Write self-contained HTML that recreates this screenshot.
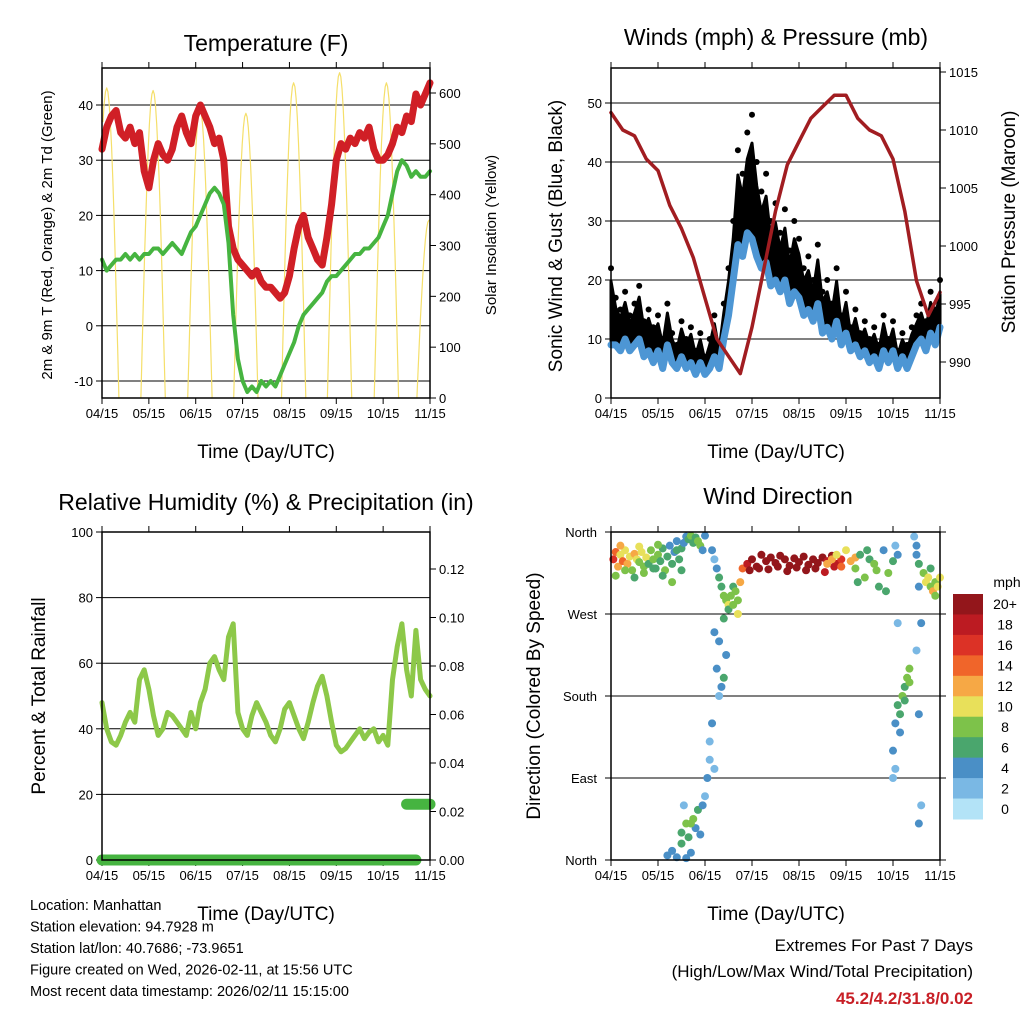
<!DOCTYPE html>
<html><head><meta charset="utf-8"><style>
body{margin:0;background:#fff}
svg{display:block;font-family:"Liberation Sans",sans-serif}
</style></head><body>
<svg id="c" width="1024" height="1024" xmlns="http://www.w3.org/2000/svg"></svg>
<script>
// ---------- Data ----------
const xTickLabels = ["04/15","05/15","06/15","07/15","08/15","09/15","10/15","11/15"];
// temperature, step 0.1 day
const tempRed = [32,36,38,39,35,34,36,33,35,28, 25,30,33,31,30,32,36,38,35,33, 38,40,38,36,33,34,30,18,14,12, 11,10,9,10,8,7,7,6,5,6, 9,14,18,20,16,14,12,11,16,22, 30,33,32,34,33,35,34,36,32,30, 30,31,33,36,35,38,37,42,40,42,44];
const tempGreen = [12,10,11,12,12,13,12,13,12,13, 13,14,14,13,14,15,14,13,15,17, 18,20,22,24,25,24,22,15,2,-6, -10,-12,-11,-12,-10,-11,-10,-11,-9,-7, -5,-3,0,2,3,4,5,6,8,9, 9,10,11,12,13,13,14,14,15,16, 18,20,24,28,30,29,27,28,27,27,28];
const solarPeakT = [0.1,1.09,2.09,3.07,4.09,5.07,6.07,6.98];
const solarPeakV = [610,605,570,560,620,640,620,350];
const tempTicks = [-10,0,10,20,30,40];
const solarTicks = [0,100,200,300,400,500,600];
// winds, step 0.1 day
const gust = [22,17,15,18,14,16,19,13,15, 12,14,10,16,11,9,13,10,12,8,11, 7,10,14,9,16,22, 30,42,38,45,48,40,35,38,30,33, 28,32,25,30,27,22,24,20,26,18, 20,16,22,14,18,12,15,11,13,10, 12,9,14,10,13,8,11,9,12,14, 16,13,18,15,20];
const sonic = [9,9,8,10,8,9,10,7,8, 6,8,5,9,6,5,7,5,6,4,6, 4,5,7,5,10,14, 20,26,24,28,27,24,22,23,19,20, 18,20,16,18,17,14,15,13,16,11, 12,10,13,9,11,8,9,7,8,6, 7,5,8,6,8,5,7,5,7,9, 10,8,11,9,12];
// pressure, step 0.25 day
const pressure = [1011.5,1010,1009.5,1007.5,1006.5,1003.5,1001.5,999,995.5,992,990.5,989,993,998,1003,1007,1009,1011,1012,1013,1013,1011,1010,1009.5,1007.5,1003,997,994,996];
const windTicks = [0,10,20,30,40,50];
const presTicks = [990,995,1000,1005,1010,1015];
// RH step 0.1 day
const rh = [48,40,36,35,38,42,45,42,55,58, 52,44,38,40,45,44,42,40,38,45, 40,48,52,60,62,58,55,68,72,45, 40,38,44,48,45,42,38,36,40,46, 48,44,40,37,42,48,53,56,50,42, 35,33,34,36,38,40,37,39,40,36, 38,35,55,65,72,58,50,70,55,52,50];
const precipStart = [0,6.5];
const precipEnd = [6.7,7];
const precipVal = [0,0.023];
const rhTicks = [0,20,40,60,80,100];
const precipTicks = ["0.00","0.02","0.04","0.06","0.08","0.10","0.12"];
// wind direction
const dirT = [.05,.1,.15,.2,.25,.3,.35,.4,.45,.5,.55,.6,.65,.7,.75,.8,.85,.9,.95,1.0,1.05,1.1,1.15,1.2,1.25,1.3,1.35,1.4,1.45,1.5,1.55,1.6,.1,.3,.5,.7,.9,1.1,1.3,1.5,.2,.6,1.0,1.4,
 1.65,1.7,1.75,1.8,1.85,1.9,1.95,2.0,
 1.2,1.3,1.4,1.5,1.6,1.7,1.5,1.6,1.65,1.75,1.8,1.85,1.9,1.95,2.0,2.05,2.1,2.1,2.15,2.2,1.7,1.55,
 2.15,2.2,2.25,2.3,2.35,2.4,2.45,2.5,2.55,2.6,2.65,2.7,2.75,2.8,2.2,2.3,2.4,2.5,2.6,2.7,2.25,2.35,2.45,2.3,2.4,
 2.9,3.0,3.1,3.2,3.3,3.4,3.5,3.6,3.7,3.8,3.9,4.0,4.1,4.2,4.3,4.4,4.5,4.6,4.7,4.8,4.9,2.95,3.15,3.35,3.55,3.75,3.95,4.15,4.35,4.55,4.75,
 4.6,4.7,4.8,4.9,5.0,5.1,5.2,
 5.2,5.3,5.4,5.5,5.6,5.7,5.8,5.9,6.0,6.1,5.25,5.45,5.65,5.85,6.05,
 6.0,6.05,6.1,6.15,6.2,6.25,6.3,6.35,6.05,6.15,6.25,6.35,6.0,6.1,
 6.45,6.5,6.5,6.55,6.55,6.6,6.5,6.55,6.6,6.55,
 6.65,6.7,6.75,6.8,6.85,6.9,6.95,7.0,6.8,6.9];
const dirDeg = [330,338,322,335,328,340,325,333,318,336,330,327,338,322,332,325,340,330,320,335,328,342,318,333,345,325,338,350,330,342,348,355,312,318,310,315,320,312,305,318,345,344,346,340,
 352,356,348,354,350,345,340,356,
 5,10,3,18,2,8,30,40,25,45,35,55,28,60,70,90,110,130,150,100,40,60,
 340,330,320,310,300,290,285,280,290,300,295,270,305,320,250,240,265,275,280,285,210,190,225,180,200,
 325,330,322,335,328,332,326,334,330,323,331,327,333,324,330,326,332,328,334,325,330,318,320,319,322,317,321,318,320,316,322,
 325,330,335,322,340,328,332,
 320,335,310,330,325,300,340,315,328,335,305,340,318,295,345,
 120,150,170,160,180,190,200,210,100,140,175,195,90,260,
 355,345,335,325,300,260,230,160,60,40,
 315,305,310,300,295,305,300,310,320,290];
const dirSpd = [16,13,11,10,14,9,11,10,8,12,9,7,10,8,9,6,8,7,6,8,6,5,7,6,4,5,4,3,6,5,4,3,7,8,6,7,6,5,7,6,12,9,8,5,
 6,7,5,6,8,7,4,3,
 4,3,4,5,3,4,5,7,6,8,4,5,3,4,2,3,2,2,3,2,7,1,
 3,2,4,5,6,7,8,10,7,6,8,9,12,14,4,3,5,6,7,8,3,4,3,2,5,
 18,20,22,21,19,23,20,22,21,19,22,20,23,21,19,20,22,18,20,17,16,21,22,20,23,21,20,22,19,18,17,
 12,11,10,13,10,11,12,
 7,6,8,5,7,6,4,8,5,3,6,5,7,6,2,
 3,4,5,6,7,6,8,7,2,4,6,8,2,2,
 2,3,4,5,3,4,2,3,2,3,
 8,9,10,8,11,7,10,9,6,8];
const dirTicks = ["North","East","South","West","North"];
const cbLabels = ["0","2","4","6","8","10","12","14","16","18","20+"];
const cbColors = ["#b3e3f7","#7ab8e4","#4a8fc6","#4aa66d","#7dc24a","#e8e05a","#f6a845","#f0652a","#dc3226","#bc1b22","#93161b"];

// ---------- helpers ----------
const svg=document.getElementById('c');
const NS='http://www.w3.org/2000/svg';
function mk(tag,attrs,parent){const e=document.createElementNS(NS,tag);for(const k in attrs)e.setAttribute(k,attrs[k]);(parent||svg).appendChild(e);return e;}
function txt(s,x,y,size,anchor,name,extra){const e=mk('text',Object.assign({x:x,y:y,'font-size':size,'text-anchor':anchor||'middle',fill:'#000'},extra||{}));e.textContent=s;


return e;}
function lin(d0,d1,r0,r1){return v=>r0+(v-d0)*(r1-r0)/(d1-d0);}
function poly(pts,color,w,name,g){const e=mk('polyline',{points:pts.map(p=>p[0].toFixed(1)+','+p[1].toFixed(1)).join(' '),fill:'none',stroke:color,'stroke-width':w,'stroke-linejoin':'round','stroke-linecap':'round'},g);


return e;}

function panel(name){
  const g=mk('g',{});
  
  
  return g;
}
function frame(g,L,T,R,B){
  const r=mk('rect',{x:L,y:T,width:R-L,height:B-T,fill:'none',stroke:'#000','stroke-width':1.5},g);
  
  
}
function xAxis(g,L,R,T,B,cx){
  const xs=lin(0,7,L,R);
  xTickLabels.forEach((s,i)=>{
    const x=xs(i);
    mk('line',{x1:x,y1:B,x2:x,y2:B+6,stroke:'#000','stroke-width':1},g);
    mk('line',{x1:x,y1:T,x2:x,y2:T-6,stroke:'#000','stroke-width':1},g);
    txt(s,x,B+20,13,'middle','x-tick-label');
  });
  txt('Time (Day/UTC)',cx,B+60,19,'middle','x-axis-title');
  return xs;
}

// ---------- Panel 1: Temperature ----------
(function(){
  const L=102,T=68,R=430,B=398;
  const g=panel('temperature-panel');
  const xs=lin(0,7,L,R), ys=lin(-10,40,381,105), ysol=lin(0,600,398,93);
  tempTicks.forEach(v=>{const y=ys(v);mk('line',{x1:L,y1:y,x2:R,y2:y,stroke:'#000','stroke-width':1},g);mk('line',{x1:L,y1:y,x2:L-6,y2:y,stroke:'#000'},g);txt(String(v),L-9,y+5,13,'end','temp-tick-label');});
  solarTicks.forEach(v=>{const y=ysol(v);mk('line',{x1:R,y1:y,x2:R+6,y2:y,stroke:'#000'},g);txt(String(v),R+9,y+5,13,'start','solar-tick-label');});
  xAxis(g,L,R,T,B,266);
  solarPeakT.forEach((t,i)=>{
    const pts=[];const half=0.26;
    for(let k=0;k<=20;k++){const tt=t-half+k*2*half/20;if(tt<0||tt>7)continue;const v=solarPeakV[i]*Math.sin(Math.PI*k/20);pts.push([xs(tt),ysol(v)]);}
    poly(pts,'#f5df6a',1.2,'solar-insolation-line',g);
  });
  poly(tempRed.map((v,i)=>[xs(i*0.1),ys(v)]),'#d01f26',7,'temperature-red-line',g);
  poly(tempGreen.map((v,i)=>[xs(i*0.1),ys(v)]),'#46b440',4,'dewpoint-green-line',g);
  frame(g,L,T,R,B);
  txt('Temperature (F)',266,51,23,'middle','temperature-title');
  txt('2m & 9m T (Red, Orange) & 2m Td (Green)',0,0,15,'middle','temp-y-axis-title',{transform:'translate(52,235) rotate(-90)'});
  txt('Solar Insolation (Yellow)',0,0,15,'middle','solar-y-axis-title',{transform:'translate(496,235) rotate(-90)'});
})();

// ---------- Panel 2: Winds ----------
(function(){
  const L=611,T=68,R=940,B=398;
  const g=panel('winds-panel');
  const xs=lin(0,7,L,R), ys=lin(0,50,398,103), yp=lin(990,1015,362,72);
  windTicks.forEach(v=>{const y=ys(v);if(v>0)mk('line',{x1:L,y1:y,x2:R,y2:y,stroke:'#000','stroke-width':1},g);mk('line',{x1:L,y1:y,x2:L-6,y2:y,stroke:'#000'},g);txt(String(v),L-9,y+5,13,'end','wind-tick-label');});
  presTicks.forEach(v=>{const y=yp(v);mk('line',{x1:R,y1:y,x2:R+6,y2:y,stroke:'#000'},g);txt(String(v),R+9,y+5,13,'start','pressure-tick-label');});
  xAxis(g,L,R,T,B,776);
  // black gust cloud band between sonic and gust
  const up=gust.map((v,i)=>[xs(i*0.1),ys(v*0.9)]);
  const lo=sonic.map((v,i)=>[xs(i*0.1),ys(v)]).reverse();
  const band=mk('polygon',{points:up.concat(lo).map(p=>p[0].toFixed(1)+','+p[1].toFixed(1)).join(' '),fill:'#000',stroke:'#000','stroke-width':3,'stroke-linejoin':'round'},g);
  
  
  gust.forEach((v,i)=>{
    const c=mk('circle',{cx:xs(i*0.1),cy:ys(v),r:3,fill:'#000'},g);
    
    
  });
  poly(sonic.map((v,i)=>[xs(i*0.1),ys(v)]),'#4d96d4',7,'sonic-wind-line',g);
  poly(pressure.map((v,i)=>[xs(i*0.25),yp(v)]),'#a11d21',3.5,'pressure-line',g);
  frame(g,L,T,R,B);
  txt('Winds (mph) & Pressure (mb)',776,45,23,'middle','winds-title');
  txt('Sonic Wind & Gust (Blue, Black)',0,0,19,'middle','wind-y-axis-title',{transform:'translate(562,236) rotate(-90)'});
  txt('Station Pressure (Maroon)',0,0,19,'middle','pressure-y-axis-title',{transform:'translate(1015,222) rotate(-90)'});
})();

// ---------- Panel 3: RH ----------
(function(){
  const L=102,T=532,R=430,B=860;
  const g=panel('humidity-panel');
  const xs=lin(0,7,L,R), ys=lin(0,100,860,532), yp=lin(0,0.12,860,569);
  rhTicks.forEach(v=>{const y=ys(v);mk('line',{x1:L,y1:y,x2:R,y2:y,stroke:'#000','stroke-width':1},g);mk('line',{x1:L,y1:y,x2:L-6,y2:y,stroke:'#000'},g);txt(String(v),L-9,y+5,13,'end','rh-tick-label');});
  precipTicks.forEach(s=>{const y=yp(parseFloat(s));mk('line',{x1:R,y1:y,x2:R+6,y2:y,stroke:'#000'},g);txt(s,R+9,y+5,13,'start','precip-tick-label');});
  xAxis(g,L,R,T,B,266);
  poly(rh.map((v,i)=>[xs(i*0.1),ys(v)]),'#8dc849',5,'rh-line',g);
  precipStart.forEach((s,i)=>{poly([[xs(s),yp(precipVal[i])],[xs(precipEnd[i]),yp(precipVal[i])]],'#46b440',11,'precip-line',g);});
  frame(g,L,T,R,B);
  txt('Relative Humidity (%) & Precipitation (in)',266,510,23,'middle','humidity-title');
  txt('Percent & Total Rainfall',0,0,19,'middle','rh-y-axis-title',{transform:'translate(45,696) rotate(-90)'});
})();

// ---------- Panel 4: Wind direction ----------
(function(){
  const L=611,T=532,R=940,B=860;
  const g=panel('wind-direction-panel');
  const xs=lin(0,7,L,R), ys=lin(0,360,860,532);
  dirTicks.forEach((s,i)=>{const y=ys(i*90);mk('line',{x1:L-6,y1:y,x2:R+6,y2:y,stroke:'#000','stroke-width':1},g);txt(s,L-14,y+5,13,'end','direction-tick-label');});
  xAxis(g,L,R,T,B,776);
  dirT.forEach((t,i)=>{
    const idx=Math.min(10,Math.round(dirSpd[i]/2));
    const c=mk('circle',{cx:xs(t),cy:ys(dirDeg[i]),r:4,fill:cbColors[idx]},g);
    
    
  });
  frame(g,L,T,R,B);
  txt('Wind Direction',778,504,23,'middle','wind-direction-title');
  txt('Direction (Colored By Speed)',0,0,19,'middle','direction-y-axis-title',{transform:'translate(540,696) rotate(-90)'});
  const cb=mk('g',{});
  
  
  const top=594,h=(819-594)/11;
  for(let i=0;i<11;i++){
    const j=10-i;
    const r=mk('rect',{x:953,y:top+i*h,width:30,height:h+0.5,fill:cbColors[j]},cb);
    
    
    txt(cbLabels[j],1005,top+i*h+h/2+5,14,'middle','colorbar-label');
  }
  txt('mph',1007,587,14,'middle','colorbar-title');
})();

// ---------- footer ----------
const foot=["Location: Manhattan","Station elevation: 94.7928 m","Station lat/lon: 40.7686; -73.9651","Figure created on Wed, 2026-02-11, at 15:56 UTC","Most recent data timestamp: 2026/02/11 15:15:00"];
foot.forEach((s,i)=>txt(s,30,910+i*21.5,14.5,'start','footer-info-line'));
txt('Extremes For Past 7 Days',973,951,17,'end','extremes-title');
txt('(High/Low/Max Wind/Total Precipitation)',973,977,17,'end','extremes-subtitle');
txt('45.2/4.2/31.8/0.02',973,1004,17,'end','extremes-values',{fill:'#c81f26','font-weight':'bold'});
</script>
</body></html>
